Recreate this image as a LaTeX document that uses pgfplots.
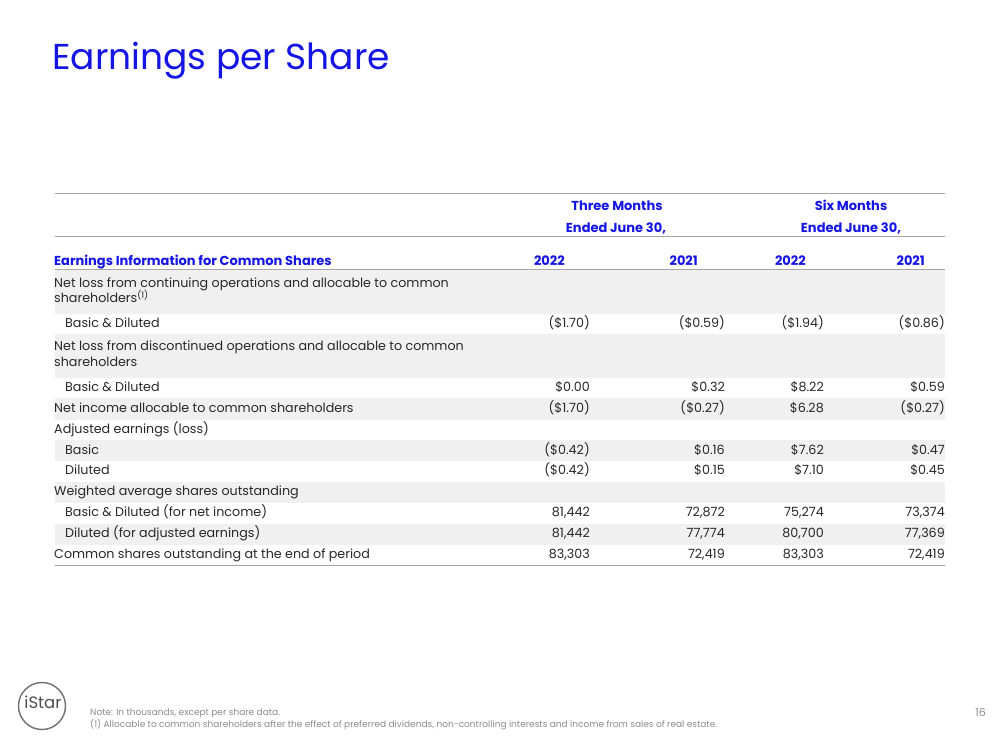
\documentclass[border=0pt]{standalone}
\usepackage{fontspec}
\setmainfont{Poppins}
\usepackage{pgfplots}
\pgfplotsset{compat=1.18}
\definecolor{tblue}{RGB}{20,20,228}
\definecolor{shade}{RGB}{240,240,240}
\definecolor{rule}{RGB}{165,165,170}
\definecolor{body}{RGB}{40,40,40}
\definecolor{foot}{RGB}{140,140,140}
\newcommand{\vals}[5]{%
  \node[anchor=mid east] at (axis cs:590,#1) {#2};
  \node[anchor=mid east] at (axis cs:725,#1) {#3};
  \node[anchor=mid east] at (axis cs:824,#1) {#4};
  \node[anchor=mid east] at (axis cs:945,#1) {#5};}
\begin{document}
\begin{tikzpicture}[every node/.style={inner sep=0pt, yshift=-2pt, font=\fontsize{12.7}{15}\selectfont, text=body}]
\begin{axis}[x=1pt, y=1pt, y dir=reverse, xmin=0, xmax=999, ymin=0, ymax=750,
  hide axis, clip=false]
\fill[white] (axis cs:0,0) rectangle (axis cs:999,750);
% shaded rows
\addplot[draw=none, fill=shade] coordinates {(55,269) (945,269) (945,314) (55,314)} -- cycle;
\addplot[draw=none, fill=shade] coordinates {(55,334) (945,334) (945,378) (55,378)} -- cycle;
\addplot[draw=none, fill=shade] coordinates {(55,398) (945,398) (945,420) (55,420)} -- cycle;
\addplot[draw=none, fill=shade] coordinates {(55,440) (945,440) (945,461) (55,461)} -- cycle;
\addplot[draw=none, fill=shade] coordinates {(55,482) (945,482) (945,503) (55,503)} -- cycle;
\addplot[draw=none, fill=shade] coordinates {(55,524) (945,524) (945,545) (55,545)} -- cycle;
% rules
\addplot[rule, line width=1pt] coordinates {(55,193) (945,193)};
\addplot[rule, line width=1pt] coordinates {(55,236) (945,236)};
\addplot[rule, line width=1pt] coordinates {(55,269) (945,269)};
\addplot[rule, line width=1pt] coordinates {(55,565) (945,565)};
% title
\node[anchor=base west, yshift=2pt, text=tblue, font=\fontsize{36}{42}\selectfont] at (axis cs:52,69) {Earnings per Share};
% headers
\begin{scope}[every node/.append style={text=tblue, font=\fontsize{13}{15}\selectfont\bfseries}]
\node[anchor=mid] at (axis cs:617,206) {Three Months};
\node[anchor=mid] at (axis cs:616,228) {Ended June 30,};
\node[anchor=mid] at (axis cs:851,206) {Six Months};
\node[anchor=mid] at (axis cs:851,228) {Ended June 30,};
\node[anchor=mid west] at (axis cs:54,261) {Earnings Information for Common Shares};
\node[anchor=mid east] at (axis cs:565,261) {2022};
\node[anchor=mid east] at (axis cs:698,261) {2021};
\node[anchor=mid east] at (axis cs:806,261) {2022};
\node[anchor=mid east] at (axis cs:925,261) {2021};
\end{scope}
% row labels
\node[anchor=mid west] at (axis cs:54,283) {Net loss from continuing operations and allocable to common};
\node[anchor=mid west] at (axis cs:54,298) {shareholders\textsuperscript{(1)}};
\node[anchor=mid west] at (axis cs:65,323) {Basic \& Diluted};
\node[anchor=mid west] at (axis cs:54,346) {Net loss from discontinued operations and allocable to common};
\node[anchor=mid west] at (axis cs:54,362) {shareholders};
\node[anchor=mid west] at (axis cs:65,387) {Basic \& Diluted};
\node[anchor=mid west] at (axis cs:54,408) {Net income allocable to common shareholders};
\node[anchor=mid west] at (axis cs:54,429) {Adjusted earnings (loss)};
\node[anchor=mid west] at (axis cs:65,450) {Basic};
\node[anchor=mid west] at (axis cs:65,470) {Diluted};
\node[anchor=mid west] at (axis cs:54,491) {Weighted average shares outstanding};
\node[anchor=mid west] at (axis cs:65,512) {Basic \& Diluted (for net income)};
\node[anchor=mid west] at (axis cs:65,533) {Diluted (for adjusted earnings)};
\node[anchor=mid west] at (axis cs:54,554) {Common shares outstanding at the end of period};
% values
\vals{323}{(\$1.70)}{(\$0.59)}{(\$1.94)}{(\$0.86)}
\vals{387}{\$0.00}{\$0.32}{\$8.22}{\$0.59}
\vals{408}{(\$1.70)}{(\$0.27)}{\$6.28}{(\$0.27)}
\vals{450}{(\$0.42)}{\$0.16}{\$7.62}{\$0.47}
\vals{470}{(\$0.42)}{\$0.15}{\$7.10}{\$0.45}
\vals{512}{81,442}{72,872}{75,274}{73,374}
\vals{533}{81,442}{77,774}{80,700}{77,369}
\vals{554}{83,303}{72,419}{83,303}{72,419}
% footer
\draw[foot!80!black, line width=1.4pt] (axis cs:42,706) circle[radius=23.5pt];
\node[anchor=mid, yshift=2pt, text=foot!55!black, font=\fontsize{16.5}{18}\selectfont] at (axis cs:43,706) {iStar};
\node[anchor=mid west, text=foot, font=\fontsize{9}{10}\selectfont] at (axis cs:90,711) {Note: In thousands, except per share data.};
\node[anchor=mid west, text=foot, font=\fontsize{9}{10}\selectfont] at (axis cs:90,723) {(1) Allocable to common shareholders after the effect of preferred dividends, non-controlling interests and income from sales of real estate.};
\node[anchor=mid east, text=foot, font=\fontsize{11}{12}\selectfont] at (axis cs:986,712) {16};
\end{axis}
\end{tikzpicture}
\end{document}
